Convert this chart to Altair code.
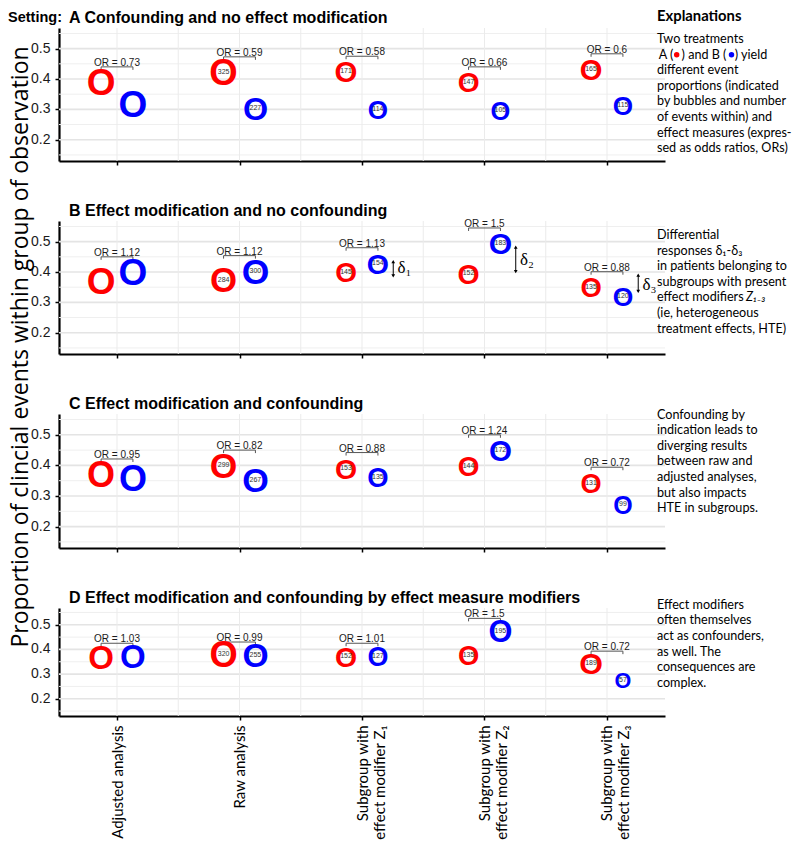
import altair as alt
import pandas as pd

# ---------------- data ----------------
categories = ["Adjusted analysis", "Raw analysis",
              "Subgroup with\neffect modifier Z₁",
              "Subgroup with\neffect modifier Z₂",
              "Subgroup with\neffect modifier Z₃"]
y_ticks = [0.2, 0.3, 0.4, 0.5]
panels = ["A", "B", "C", "D"]
panel_titles = {
    "A": "A Confounding and no effect modification",
    "B": "B Effect modification and no confounding",
    "C": "C Effect modification and confounding",
    "D": "D Effect modification and confounding by effect measure modifiers",
}
# proportion of events, treatment A (red) and B (blue)
red_prop = {
    "A": [0.390, 0.423, 0.425, 0.390, 0.433],
    "B": [0.371, 0.375, 0.400, 0.396, 0.351],
    "C": [0.371, 0.400, 0.392, 0.399, 0.344],
    "D": [0.370, 0.380, 0.372, 0.376, 0.343],
}
blue_prop = {
    "A": [0.319, 0.306, 0.300, 0.297, 0.315],
    "B": [0.400, 0.404, 0.430, 0.495, 0.320],
    "C": [0.358, 0.352, 0.363, 0.450, 0.274],
    "D": [0.375, 0.378, 0.375, 0.476, 0.274],
}
# number of events (not shown for the adjusted analysis)
red_events = {"A": [None, 325, 171, 147, 165], "B": [None, 284, 145, 152, 135],
              "C": [None, 299, 153, 144, 131], "D": [None, 320, 152, 135, 189]}
blue_events = {"A": [None, 227, 114, 105, 115], "B": [None, 300, 154, 183, 120],
               "C": [None, 267, 135, 172, 99], "D": [None, 255, 127, 195, 57]}
odds_ratios = {"A": ["0.73", "0.59", "0.58", "0.66", "0.6"],
               "B": ["1.12", "1.12", "1.13", "1.5", "0.88"],
               "C": ["0.95", "0.82", "0.88", "1.24", "0.72"],
               "D": ["1.03", "0.99", "1.01", "1.5", "0.72"]}
# differential responses in panel B
delta_labels = ["δ₁", "δ₂", "δ₃"]
delta_cat = [2, 3, 4]
delta_lo = [0.387, 0.401, 0.336]
delta_hi = [0.434, 0.482, 0.390]
delta_mid = [0.412, 0.4385, 0.358]

y_title = "Proportion of clincial events within group of observation"
expl_A1 = "Two treatments"
expl_A2 = ["A (", ") and B (", ") yield"]
expl_A3 = ["different event", "proportions (indicated", "by bubbles and number",
           "of events within) and", "effect measures (expres-", "sed as odds ratios, ORs)"]
expl_B = ["Differential", "responses δ₁-δ₃", "in patients belonging to",
          "subgroups with present", "effect modifiers", "(ie, heterogeneous",
          "treatment effects, HTE)"]
expl_B_italic = "Z₁₋₃"
expl_C = ["Confounding by", "indication leads to", "diverging results",
          "between raw and", "adjusted analyses,", "but also impacts", "HTE in subgroups."]
expl_D = ["Effect modifiers", "often themselves", "act as confounders,",
          "as well. The", "consequences are", "complex."]

# ---------------- style ----------------
RED, BLUE = "#ff0000", "#0000ff"
W = 606
HEIGHTS = {"A": 133, "B": 133, "C": 134, "D": 108}
ADJ_SIZE = {"A": 37, "B": 37, "C": 36, "D": 33}
DODGE = 0.13
EXPL_FONT = "Lato, 'Liberation Serif'"
EXPL_SIZE = 12.6
LH = 15.6
EX = 598

xs = alt.Scale(domain=[-0.4735, 4.4735], nice=False, zero=False)
ys = alt.Scale(domain=[0.13, 0.568], nice=False, zero=False)
one = pd.DataFrame({"k": [0]})

label_expr = ("split([" + ",".join("'" + c.replace("\n", "|") + "'" for c in categories)
              + "][datum.value], '|')")


def X(f):
    return alt.X(f, scale=xs, title=None)


def Y(f):
    return alt.Y(f, scale=ys, title=None)


def txt(text, x, y, size=EXPL_SIZE, font=EXPL_FONT, weight="normal", style="normal",
        align="left", baseline="alphabetic", color="black", angle=0):
    return alt.Chart(one).mark_text(
        text=text, font=font, fontSize=size, fontWeight=weight, fontStyle=style,
        align=align, baseline=baseline, color=color, angle=angle,
        lineBreak="\n", lineHeight=LH
    ).encode(x=alt.value(x), y=alt.value(y))


def top_txt(text, x, base_y, size, **kw):
    # place a single line by its baseline while keeping tight top bounds
    return txt(text, x, base_y - 0.79 * size, size=size, baseline="top", **kw)


def dot(x, y, color):
    return alt.Chart(one).mark_point(filled=True, shape="circle", size=30, opacity=1,
                                     color=color).encode(x=alt.value(x), y=alt.value(y))


def make_panel(key):
    h = HEIGHTS[key]
    last = key == "D"
    rows = []
    for i in range(5):
        rows.append({"x": i - DODGE, "y": red_prop[key][i], "n": red_events[key][i], "arm": "A", "cat": i})
        rows.append({"x": i + DODGE, "y": blue_prop[key][i], "n": blue_events[key][i], "arm": "B", "cat": i})
    df = pd.DataFrame(rows)
    adj = df[df["cat"] == 0].drop(columns=["n"])
    sub = df[df["cat"] > 0].copy()
    sub["n"] = sub["n"].astype(int)

    x1 = [i - DODGE for i in range(5)]
    x2 = [i + DODGE for i in range(5)]
    yb = [max(r, b) + 0.05 for r, b in zip(red_prop[key], blue_prop[key])]
    br = pd.DataFrame({"x1": x1, "x2": x2, "yb": yb, "xm": list(range(5)),
                       "lab": ["OR = " + o for o in odds_ratios[key]]})
    tk = pd.DataFrame({"tx": x1 + x2, "yb": yb + yb})

    color = alt.Color("arm:N", scale=alt.Scale(domain=["A", "B"], range=[RED, BLUE]), legend=None)

    yaxis = alt.Axis(values=y_ticks, labels=False,
                     tickColor="black", tickSize=4, tickWidth=1.5,
                     domainColor="black", domainWidth=2.2, grid=False, title=None)
    common_x = dict(values=[0, 1, 2, 3, 4], tickColor="black", tickSize=4, tickWidth=1.5,
                    domainColor="black", domainWidth=2.2, grid=False, title=None)
    if last:
        xaxis = alt.Axis(labelExpr=label_expr, labelAngle=270, labelAlign="right",
                         labelBaseline="middle", labelFont="Lato", labelFontSize=15,
                         labelLineHeight=17, labelColor="black", labelPadding=5,
                         labelOverlap=False, **common_x)
    else:
        xaxis = alt.Axis(labels=False, **common_x)

    gx = pd.DataFrame({"g": [i * 0.5 for i in range(9)]})
    gy_major = pd.DataFrame({"g": y_ticks})
    gy_minor = pd.DataFrame({"g": [0.15, 0.25, 0.35, 0.45, 0.55]})

    layers = [
        # axis carrier
        alt.Chart(sub).mark_point(opacity=0).encode(
            x=alt.X("x:Q", scale=xs, axis=xaxis),
            y=alt.Y("y:Q", scale=ys, axis=yaxis)),
        alt.Chart(gy_minor).mark_rule(color="#efefef", strokeWidth=1).encode(y=Y("g:Q")),
        alt.Chart(gy_major).mark_rule(color="#e4e4e4", strokeWidth=1.6).encode(y=Y("g:Q")),
        alt.Chart(gx).mark_rule(color="#ebebeb", strokeWidth=1).encode(x=X("g:Q")),
        # y tick labels
        alt.Chart(gy_major).mark_text(align="right", baseline="middle", font="Liberation Sans",
                                      fontSize=14, color="#1a1a1a").encode(
            x=alt.value(-8.5), y=Y("g:Q"), text=alt.Text("g:Q", format=".1f")),
        alt.Chart(br).mark_rule(color="#555555", strokeWidth=1).encode(
            x=X("x1:Q"), x2="x2:Q", y=Y("yb:Q")),
        alt.Chart(tk).mark_rule(color="#555555", strokeWidth=1, y2Offset=3).encode(
            x=X("tx:Q"), y=Y("yb:Q"), y2="yb:Q"),
        alt.Chart(br).mark_text(font="Liberation Sans", fontSize=10, color="#1a1a1a",
                                baseline="alphabetic", dy=-1).encode(
            x=X("xm:Q"), y=Y("yb:Q"), text="lab:N"),
        alt.Chart(adj).mark_text(text="O", font="Liberation Sans", fontWeight="bold",
                                 fontSize=ADJ_SIZE[key], baseline="middle", dy=2).encode(
            x=X("x:Q"), y=Y("y:Q"), color=color),
        alt.Chart(sub).mark_text(text="O", font="Liberation Sans", fontWeight="bold",
                                 baseline="middle", dy=2).encode(
            x=X("x:Q"), y=Y("y:Q"), color=color,
            size=alt.Size("n:Q", scale=alt.Scale(type="sqrt", domain=[57, 325],
                                                  range=[21.6, 36.5], zero=False),
                          legend=None)),
        alt.Chart(sub).mark_text(font="Liberation Sans", fontSize=7, color="#333333",
                                 baseline="middle").encode(
            x=X("x:Q"), y=Y("y:Q"), text=alt.Text("n:Q", format="d")),
        # panel title
        top_txt(panel_titles[key], 10, -5.5, 16, font="Liberation Sans", weight="bold"),
    ]

    if key == "A":
        layers += [
            top_txt("Setting:", -51, -6, 14.5, font="Liberation Sans", weight="bold"),
            top_txt("Explanations", EX, -7.5, 14.8, weight="bold"),
            txt(expl_A1, EX, 15),
            txt(expl_A2[0], 614.5, 30.6, align="right"),
            dot(617.7, 26.8, RED),
            txt(expl_A2[1], 645, 30.6, align="center"),
            dot(672.5, 26.8, BLUE),
            txt(expl_A2[2], 675.8, 30.6),
            txt("\n".join(expl_A3), EX, 30.6 + LH),
        ]
    elif key == "B":
        dl = pd.DataFrame({"ax": [c + 0.255 for c in delta_cat], "tx": [c + 0.29 for c in delta_cat],
                           "lo": delta_lo, "hi": delta_hi, "mid": delta_mid, "lab": delta_labels})
        layers += [
            alt.Chart(dl).mark_rule(color="black", strokeWidth=1).encode(
                x=X("ax:Q"), y=Y("lo:Q"), y2="hi:Q"),
            alt.Chart(dl).mark_point(shape="triangle-up", filled=True, size=14, color="black",
                                     opacity=1).encode(x=X("ax:Q"), y=Y("hi:Q")),
            alt.Chart(dl).mark_point(shape="triangle-down", filled=True, size=14, color="black",
                                     opacity=1).encode(x=X("ax:Q"), y=Y("lo:Q")),
            alt.Chart(dl).mark_text(font="'Liberation Serif', serif", fontSize=17, align="left",
                                    baseline="middle", color="black").encode(
                x=X("tx:Q"), y=Y("mid:Q"), text="lab:N"),
            txt(y_title, -38.5, 126, size=23, font="Open Sans", align="center",
                baseline="middle", angle=270),
            txt("\n".join(expl_B), EX, 18),
            txt(expl_B_italic, 687, 18 + 4 * LH, style="italic"),
        ]
    elif key == "C":
        layers += [txt("\n".join(expl_C), EX, 4.5)]
    else:
        layers += [txt("\n".join(expl_D), EX, 0.8)]

    return alt.layer(*layers).properties(width=W, height=h)


chart = alt.vconcat(*[make_panel(k) for k in panels], spacing=60, bounds="flush").properties(
    padding=0, background="white"
).configure_view(stroke=None)

chart.save("out.html", embed_options={"renderer": "svg", "actions": False})
